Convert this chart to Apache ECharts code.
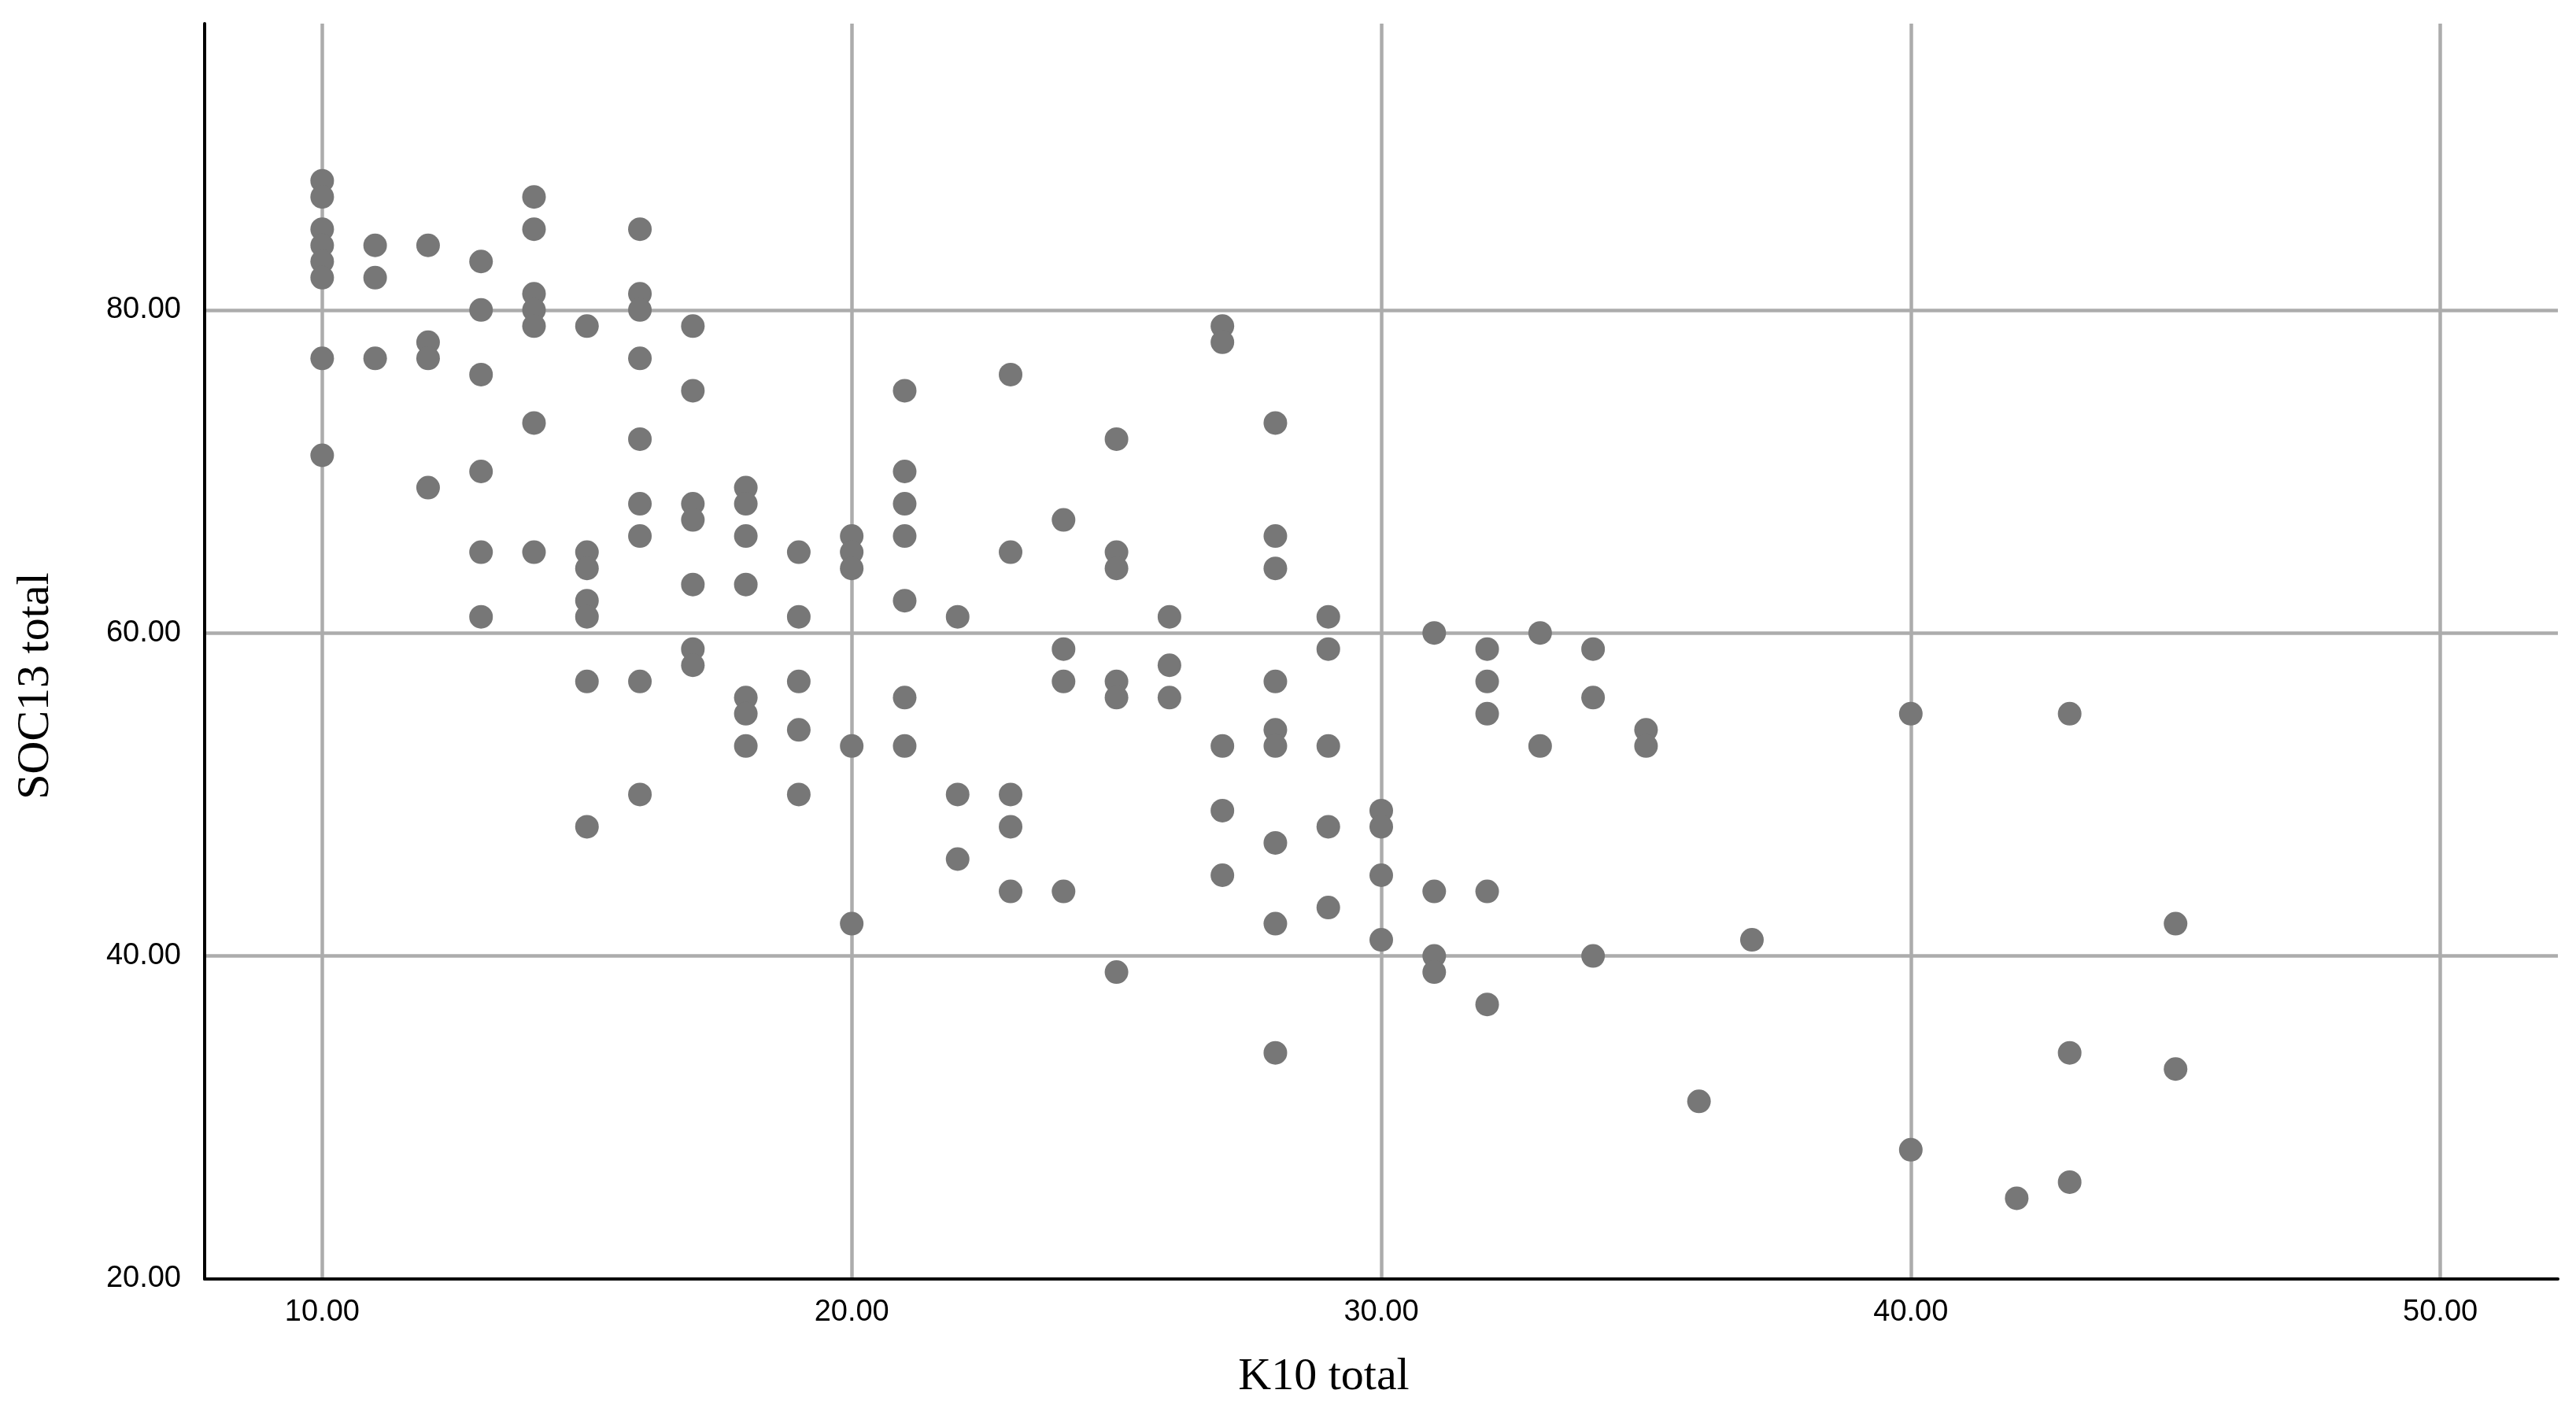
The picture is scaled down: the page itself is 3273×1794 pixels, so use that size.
<!DOCTYPE html>
<html>
<head>
<meta charset="utf-8">
<script src="https://cdn.jsdelivr.net/npm/echarts@6/dist/echarts.min.js"></script>
<style>
html,body{margin:0;padding:0;background:#fff;}
#chart{width:3273px;height:1794px;}
</style>
</head>
<body>
<div id="chart"></div>
<script>
// K10 total (x) and SOC13 total (y), one entry per respondent
const k10Total = [
  10,10,10,10,10,10,10,10,
  11,11,11,
  12,12,12,12,
  13,13,13,13,13,13,
  14,14,14,14,14,14,14,
  15,15,15,15,15,15,15,
  16,16,16,16,16,16,16,16,16,
  17,17,17,17,17,17,17,
  18,18,18,18,18,18,18,
  19,19,19,19,19,
  20,20,20,20,20,
  21,21,21,21,21,21,21,
  22,22,22,
  23,23,23,23,23,
  24,24,24,24,
  25,25,25,25,25,25,
  26,26,26,
  27,27,27,27,27,
  28,28,28,28,28,28,28,28,28,
  29,29,29,29,29,
  30,30,30,30,
  31,31,31,31,
  32,32,32,32,32,
  33,33,
  34,34,34,
  35,35,
  36,
  37,
  40,40,
  42,
  43,43,43,
  45,45
];
const soc13Total = [
  88,87,85,84,83,82,77,71,
  84,82,77,
  84,78,77,69,
  83,80,76,70,65,61,
  87,85,81,80,79,73,65,
  79,65,64,62,61,57,48,
  85,81,80,77,72,68,66,57,50,
  79,75,68,67,63,59,58,
  69,68,66,63,56,55,53,
  65,61,57,54,50,
  66,65,64,53,42,
  75,70,68,66,62,56,53,
  61,50,46,
  76,65,50,48,44,
  67,59,57,44,
  72,65,64,57,56,39,
  61,58,56,
  79,78,53,49,45,
  73,66,64,57,54,53,47,42,34,
  61,59,53,48,43,
  49,48,45,41,
  60,44,40,39,
  59,57,55,44,37,
  60,53,
  59,56,40,
  54,53,
  31,
  41,
  55,28,
  25,
  55,34,26,
  42,33
];
const xTitle = 'K10 total';
const yTitle = 'SOC13 total';
const xRange = [7.78, 52.22];
const yRange = [20, 97.73];

const points = k10Total.map((x, i) => [x, soc13Total[i]]);

const chart = echarts.init(document.getElementById('chart'), null, {renderer: 'canvas'});
const labelFont = {fontFamily: 'Liberation Sans', fontSize: 38, color: '#000'};
const gridLine = {show: true, showMinLine: false, showMaxLine: false, lineStyle: {color: '#acacac', width: 4.5}};
chart.setOption({
  animation: false,
  backgroundColor: '#fff',
  grid: {left: 260, right: 23, top: 30, bottom: 169, containLabel: false},
  xAxis: {
    type: 'value',
    min: xRange[0], max: xRange[1],
    minInterval: 10, maxInterval: 10,
    name: xTitle,
    nameLocation: 'middle',
    nameGap: 96,
    nameTextStyle: {fontFamily: 'Liberation Serif', fontSize: 58, color: '#000', padding: [0, 146, 0, 0]},
    axisLine: {show: true, onZero: false, lineStyle: {color: '#000', width: 4}},
    axisTick: {show: false},
    axisLabel: Object.assign({margin: 24, showMinLabel: false, showMaxLabel: false,
      formatter: v => v.toFixed(2)}, labelFont),
    splitLine: gridLine
  },
  yAxis: {
    type: 'value',
    min: yRange[0], max: yRange[1],
    minInterval: 20, maxInterval: 20,
    name: yTitle,
    nameLocation: 'middle',
    nameGap: 185,
    nameTextStyle: {fontFamily: 'Liberation Serif', fontSize: 58, color: '#000', padding: [0, 88, 0, 0]},
    axisLine: {show: true, onZero: false, lineStyle: {color: '#000', width: 4}},
    axisTick: {show: false},
    axisLabel: Object.assign({margin: 30, showMinLabel: true, showMaxLabel: false,
      formatter: v => v.toFixed(2)}, labelFont),
    splitLine: gridLine
  },
  series: [{
    type: 'scatter',
    data: points,
    symbol: 'circle',
    symbolSize: 30,
    itemStyle: {color: '#777777', opacity: 1},
    z: 5
  }]
});
</script>
</body>
</html>
